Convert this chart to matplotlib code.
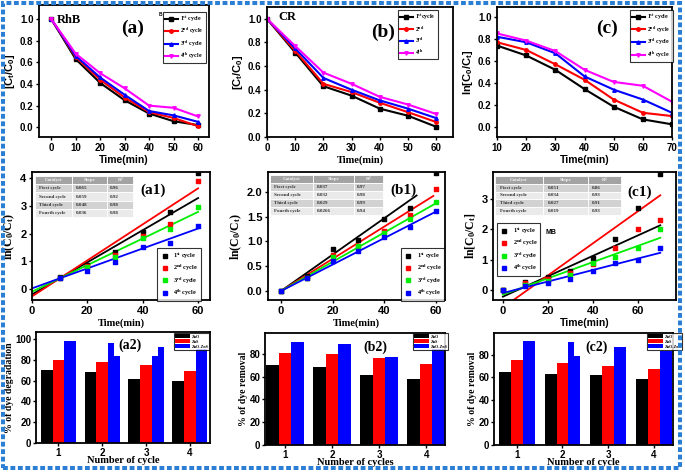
import numpy as np
import matplotlib
matplotlib.use("Agg")
import matplotlib.pyplot as plt
from matplotlib.patches import Rectangle, Patch
from matplotlib.lines import Line2D

plt.rcParams['font.family'] = ['Liberation Sans', 'DejaVu Sans']
plt.rcParams['font.weight'] = 'bold'
plt.rcParams['axes.labelweight'] = 'bold'
plt.rcParams['mathtext.fontset'] = 'custom'
plt.rcParams['mathtext.rm'] = 'Liberation Serif:bold'
plt.rcParams['mathtext.bf'] = 'Liberation Serif:bold'
plt.rcParams['mathtext.it'] = 'Liberation Serif:bold'
plt.rcParams['mathtext.sf'] = 'Liberation Sans:bold'
plt.rcParams['mathtext.default'] = 'rm'

SERIF = 'Liberation Serif'
SANS = 'Liberation Sans'

# ---------------- data ----------------
cycle_labels = ['1$^{st}$ cycle', '2$^{nd}$ cycle', '3$^{rd}$ cycle', '4$^{th}$ cycle']
cr_labels = ['1$^{st}$cycle', '2$^{nd}$', '3$^{rd}$', '4$^{th}$']

time_a = [0, 10, 20, 30, 40, 50, 60]
rhb_1 = [1.0, 0.63, 0.41, 0.25, 0.127, 0.056, 0.02]
rhb_2 = [1.0, 0.65, 0.44, 0.275, 0.14, 0.086, 0.01]
rhb_3 = [1.0, 0.66, 0.46, 0.30, 0.15, 0.11, 0.05]
rhb_4 = [1.0, 0.68, 0.50, 0.36, 0.20, 0.18, 0.10]

time_b = [0, 10, 20, 30, 40, 50, 60]
cr_1 = [1.0, 0.715, 0.43, 0.35, 0.24, 0.18, 0.087]
cr_2 = [1.0, 0.73, 0.45, 0.38, 0.29, 0.21, 0.127]
cr_3 = [1.0, 0.75, 0.50, 0.40, 0.31, 0.24, 0.16]
cr_4 = [1.0, 0.77, 0.545, 0.45, 0.34, 0.275, 0.195]

time_c = [10, 20, 30, 40, 50, 60, 70]
mb_1 = [0.74, 0.65, 0.52, 0.345, 0.185, 0.07, 0.025]
mb_2 = [0.77, 0.70, 0.57, 0.43, 0.25, 0.13, 0.10]
mb_3 = [0.82, 0.77, 0.67, 0.46, 0.34, 0.25, 0.13]
mb_4 = [0.85, 0.785, 0.69, 0.52, 0.41, 0.375, 0.23]

# kinetics (a1)
t_a1 = [10, 20, 30, 40, 50, 60]
a1_1 = [0.44, 0.85, 1.32, 2.04, 2.79, 4.17]
a1_2 = [0.40, 0.82, 1.22, 1.91, 2.33, 3.88]
a1_3 = [0.40, 0.80, 1.16, 1.83, 2.15, 2.97]
a1_4 = [0.40, 0.66, 0.98, 1.52, 1.65, 2.27]
a1_slope = [0.058, 0.065, 0.048, 0.036]
a1_icpt = [-0.20, -0.27, -0.10, 0.02]

# kinetics (b1)
t_b1 = [0, 10, 20, 30, 40, 50, 60]
b1_1 = [0, 0.30, 0.85, 1.03, 1.45, 1.68, 2.38]
b1_2 = [0, 0.27, 0.73, 0.91, 1.22, 1.53, 2.05]
b1_3 = [0, 0.27, 0.68, 0.90, 1.18, 1.46, 1.80]
b1_4 = [0, 0.26, 0.60, 0.80, 1.08, 1.30, 1.62]
b1_slope = [0.0367, 0.0325, 0.0295, 0.0267]
b1_icpt = [0, 0, 0, 0]
b1_xend = [52.5, 59, 60, 60]

# kinetics (c1)
t_c1 = [0, 10, 20, 30, 40, 50, 60, 70]
c1_1 = [0, 0.27, 0.42, 0.64, 1.07, 1.69, 2.72, 3.85]
c1_2 = [0, 0.22, 0.35, 0.55, 0.85, 1.38, 2.03, 2.33]
c1_3 = [0, 0.17, 0.30, 0.50, 0.90, 1.09, 1.39, 2.03]
c1_4 = [0, 0.14, 0.24, 0.35, 0.64, 0.88, 1.00, 1.39]
c1_slope = [0.0337, 0.053, 0.0268, 0.019]
c1_icpt = [-0.22, -0.58, -0.15, -0.10]

tab_header = ['Catalyst', 'Slope', 'R$^2$']
tab_rows_names = ['First cycle', 'Second cycle', 'Third cycle', 'Fourth cycle']
a1_tab_slope = ['0.065', '0.059', '0.048', '0.036']
a1_tab_r2 = ['0.96', '0.92', '0.98', '0.98']
b1_tab_slope = ['0.037', '0.032', '0.029', '0.0266']
b1_tab_r2 = ['0.97', '0.98', '0.99', '0.94']
c1_tab_slope = ['0.051', '0.034', '0.027', '0.019']
c1_tab_r2 = ['0.86', '0.93', '0.91', '0.93']

# bars
cycles = [1, 2, 3, 4]
bar_names = ['ZnO', 'ZnS', 'ZnO-ZnS']
a2_zno = [70, 68, 62, 60]
a2_zns = [80, 78, 75, 69]
a2_mix_left = [98, 96, 84, 90]
a2_mix_right = [98, 84, 92, 90]
b2_zno = [70, 68.7, 61, 58]
b2_zns = [81, 79.7, 76, 70.7]
b2_mix_left = [90.7, 88.7, 77, 84]
b2_mix_right = [90.7, 88.7, 77, 84]
c2_zno = [65, 63, 62, 58.6]
c2_zns = [75.6, 73, 70, 67.4]
c2_mix_left = [92.6, 91.4, 87, 83]
c2_mix_right = [92.6, 78.5, 87, 83]

# ---------------- figure ----------------
W, H = 685, 472
fig = plt.figure(figsize=(W / 100, H / 100), dpi=100)
fig.patch.set_facecolor('white')


def ax_px(l, t, r, b):
    return fig.add_axes([l / W, 1 - b / H, (r - l) / W, (b - t) / H])


def ftext(x, y, s, **kw):
    fig.text(x / W, 1 - y / H, s, **kw)


def style(ax, tick_fs=7, pad=1.5):
    for sp in ax.spines.values():
        sp.set_linewidth(1.3)
    ax.tick_params(direction='out', length=2.5, width=1, labelsize=tick_fs, pad=pad)
    for lab in ax.get_xticklabels() + ax.get_yticklabels():
        lab.set_fontweight('bold')
        lab.set_fontfamily(SANS)


def legend(ax, handles, labels, anchor, fs=4.5, **kw):
    lg = ax.legend(handles, labels, loc='upper left', bbox_to_anchor=anchor, borderaxespad=0,
                   frameon=True, fancybox=False, edgecolor='black',
                   prop={'family': SERIF, 'weight': 'bold', 'size': fs}, **kw)
    lg.get_frame().set_linewidth(0.8)
    return lg


colors4 = ['black', '#ff0000', '#0000ff', '#ff00ff']
markers4 = ['s', 'o', '^', 'v']


def decay_panel(ax, x, series, labels, anchor, xt, xl, yl, xlab_font, ylab, ylab_font):
    hs = []
    for s, c, m in zip(series, colors4, markers4):
        h, = ax.plot(x, s, color=c, marker=m, ms=2.5, lw=1.5)
        hs.append(h)
    ax.set_xlim(*xl)
    ax.set_ylim(*yl)
    ax.set_xticks(xt)
    ax.set_yticks([0, 0.2, 0.4, 0.6, 0.8, 1.0])
    ax.yaxis.set_major_formatter(matplotlib.ticker.FormatStrFormatter('%.1f'))
    style(ax, 7)
    ax.set_xlabel('Time(min)', fontsize=7.5, fontfamily=xlab_font, fontweight='bold', labelpad=2)
    ax.set_ylabel(ylab, fontsize=8, fontfamily=ylab_font, fontweight='bold', labelpad=2)
    legend(ax, hs, labels, anchor, fs=4.2, handlelength=2.2, labelspacing=0.4,
           borderpad=0.35, handletextpad=0.4)


# Row 1
ax = ax_px(39, 5, 209, 137)
decay_panel(ax, time_a, [rhb_1, rhb_2, rhb_3, rhb_4], cycle_labels, (0.729, 0.95),
            [0, 10, 20, 30, 40, 50, 60], (-5, 64.5), (-0.09, 1.13), SANS,
            r'[C$_\mathsf{t}$/C$_\mathsf{0}$]', SANS)
ftext(57, 20, 'RhB', fontsize=9, fontfamily=SERIF, fontweight='bold', va='center')
ftext(133, 28, '(a)', fontsize=14, fontfamily=SERIF, fontweight='bold', ha='center', va='center')
ftext(160, 14, 'B', fontsize=3.5, fontfamily=SANS, fontweight='bold', ha='center', va='center')

ax = ax_px(267, 7, 453, 137)
decay_panel(ax, time_b, [cr_1, cr_2, cr_3, cr_4], cr_labels, (0.704, 0.977),
            [0, 10, 20, 30, 40, 50, 60], (0, 66), (0, 1.1), SERIF,
            r'[C$_\mathsf{t}$/C$_\mathsf{0}$]', SANS)
ftext(278, 17, 'CR', fontsize=9, fontfamily=SERIF, fontweight='bold', va='center')
ftext(383, 32, '(b)', fontsize=14, fontfamily=SERIF, fontweight='bold', ha='center', va='center')

ax = ax_px(497, 7, 672, 137)
decay_panel(ax, time_c, [mb_1, mb_2, mb_3, mb_4], cycle_labels, (0.76, 0.977),
            [10, 20, 30, 40, 50, 60, 70], (10, 70), (-0.09, 1.09), SANS,
            r'ln[C$_\mathsf{0}$/C$_\mathsf{t}$]', SANS)
ftext(607, 28, '(c)', fontsize=14, fontfamily=SERIF, fontweight='bold', ha='center', va='center')

# Row 2
colors_k = ['black', '#ff0000', '#00ee00', '#0000ff']


def add_table(ax, slopes, r2s, bbox):
    cell = [[n, s, r] for n, s, r in zip(tab_rows_names, slopes, r2s)]
    tb = ax.table(cellText=cell, colLabels=tab_header, bbox=bbox, cellLoc='left',
                  colWidths=[0.38, 0.36, 0.26])
    tb.auto_set_font_size(False)
    tb.set_fontsize(3.6)
    row_cols = ['#d2d2d2', '#eaeaea', '#d2d2d2', '#eaeaea']
    for (r, c), cl in tb.get_celld().items():
        cl.set_edgecolor('white')
        cl.set_linewidth(0.6)
        cl.get_text().set_fontfamily(SERIF)
        cl.get_text().set_fontweight('bold')
        if r == 0:
            cl.set_facecolor('#a3a3a3')
            cl.get_text().set_color('#f2f2f2')
        else:
            cl.set_facecolor(row_cols[r - 1])
            cl.get_text().set_color('#333333')
    return tb


def kin_panel(ax, x, series, slopes, icpts, xends, xl, yl, yt, anchor, xlab_font, ylab):
    hs = []
    for s, c, sl, ic, xe in zip(series, colors_k, slopes, icpts, xends):
        xx = np.array([0, xe])
        ax.plot(xx, sl * xx + ic, color=c, lw=1.3)
        ax.scatter(x, s, color=c, marker='s', s=6, zorder=3)
        hs.append(Line2D([], [], color=c, marker='s', ms=2.5, ls='none'))
    ax.set_xlim(*xl)
    ax.set_ylim(*yl)
    ax.set_xticks([0, 20, 40, 60])
    ax.set_yticks(yt)
    style(ax, 8)
    ax.set_xlabel('Time(min)', fontsize=7.5, fontfamily=xlab_font, fontweight='bold', labelpad=2)
    ax.set_ylabel(ylab, fontsize=8.5, fontfamily=SERIF, fontweight='bold', labelpad=2)
    legend(ax, hs, cycle_labels, anchor, fs=4.5, handlelength=1.5, labelspacing=0.35,
           borderpad=0.45, handletextpad=0.6)


ax = ax_px(32, 172, 210, 300)
kin_panel(ax, t_a1, [a1_1, a1_2, a1_3, a1_4], a1_slope, a1_icpt, [60, 60, 60, 60],
          (0, 64.3), (-0.4, 4.22), [0, 1, 2, 3, 4], (0.705, 0.406), SERIF,
          r'ln(C$_\mathrm{0}$/C$_\mathrm{t}$)')
add_table(ax, a1_tab_slope, a1_tab_r2, [0.017, 0.648, 0.55, 0.32])
ftext(153, 190, '(a1)', fontsize=11, fontfamily=SERIF, fontweight='bold', ha='center', va='center')

ax = ax_px(268, 172, 445, 300)
kin_panel(ax, t_b1, [b1_1, b1_2, b1_3, b1_4], b1_slope, b1_icpt, b1_xend,
          (-5, 63.5), (-0.18, 2.4), [0, 0.5, 1.0, 1.5, 2.0], (0.751, 0.406), SERIF,
          r'ln(C$_\mathrm{0}$/C$_\mathrm{t}$)')
ax.yaxis.set_major_formatter(matplotlib.ticker.FormatStrFormatter('%.1f'))
for lab in ax.get_yticklabels():
    lab.set_fontweight('bold')
add_table(ax, b1_tab_slope, b1_tab_r2, [0.011, 0.664, 0.64, 0.31])
ftext(403, 190, '(b1)', fontsize=11, fontfamily=SERIF, fontweight='bold', ha='center', va='center')

ax = ax_px(493, 172, 676, 300)
kin_panel(ax, t_c1, [c1_1, c1_2, c1_3, c1_4], c1_slope, c1_icpt, [70, 70, 70, 70],
          (-4.4, 77), (-0.33, 3.9), [0, 1, 2, 3], (0.02, 0.60), SANS,
          r'ln[C$_\mathrm{0}$/C$_\mathrm{t}$]')
add_table(ax, c1_tab_slope, c1_tab_r2, [0.011, 0.664, 0.69, 0.305])
ftext(545, 233, 'MB', fontsize=5, fontfamily=SANS, fontweight='bold', va='center')
ftext(640, 192, '(c1)', fontsize=11, fontfamily=SERIF, fontweight='bold', ha='center', va='center')

# Row 3
bar_cols = ['black', '#ff0000', '#0000ff']


def bar_panel(ax, zno, zns, mixl, mixr, w, xl, yl, yt, anchor, ylab, xlab):
    x = np.array(cycles, dtype=float)
    ax.bar(x - w, zno, w, color=bar_cols[0])
    ax.bar(x, zns, w, color=bar_cols[1])
    ax.bar(x + w * 0.75, mixl, w / 2, color=bar_cols[2])
    ax.bar(x + w * 1.25, mixr, w / 2, color=bar_cols[2])
    ax.set_xlim(*xl)
    ax.set_ylim(*yl)
    ax.set_xticks(cycles)
    ax.set_yticks(yt)
    style(ax, 7, pad=0.8)
    ax.set_xlabel(xlab, fontsize=7.5, fontfamily=SERIF, fontweight='bold', labelpad=-1)
    ax.set_ylabel(ylab, fontsize=7, fontfamily=SERIF, fontweight='bold', labelpad=1)
    hs = [Patch(facecolor=c) for c in bar_cols]
    legend(ax, hs, bar_names, anchor, fs=3, handlelength=3.5, handleheight=1.2,
           labelspacing=0.1, borderpad=0.25, handletextpad=0.4)


ax = ax_px(36, 332, 210, 443)
bar_panel(ax, a2_zno, a2_zns, a2_mix_left, a2_mix_right, 0.267, (0.49, 4.46), (0, 106.7),
          [0, 20, 40, 60, 80, 100], (0.793, 0.99), '% of dye degradation', 'Number of cycle')
ftext(130, 345, '(a2)', fontsize=10, fontfamily=SERIF, fontweight='bold', ha='center', va='center')

ax = ax_px(265, 333, 445, 445)
bar_panel(ax, b2_zno, b2_zns, b2_mix_left, b2_mix_right, 0.266, (0.57, 4.4), (0, 98.3),
          [0, 20, 40, 60, 80], (0.822, 1.0), '% of dye removal', 'Number of cycles')
ftext(375, 347, '(b2)', fontsize=10, fontfamily=SERIF, fontweight='bold', ha='center', va='center')

ax = ax_px(494, 333, 673, 445)
bar_panel(ax, c2_zno, c2_zns, c2_mix_left, c2_mix_right, 0.26, (0.5, 4.42), (0, 99.3),
          [0, 20, 40, 60, 80], (0.855, 1.0), '% of dye removal', 'Number of cycle')
ftext(597, 347, '(c2)', fontsize=10, fontfamily=SERIF, fontweight='bold', ha='center', va='center')

# dotted border
border = Rectangle((3 / W, 1 - 468 / H), (680 - 3) / W, (468 - 3) / H, transform=fig.transFigure,
                   fill=False, edgecolor='#2a7fd4', linewidth=2.9,
                   linestyle=(0, (1.2, 0.65)), zorder=10)
fig.patches.append(border)

fig.savefig('out.png', dpi=100)
